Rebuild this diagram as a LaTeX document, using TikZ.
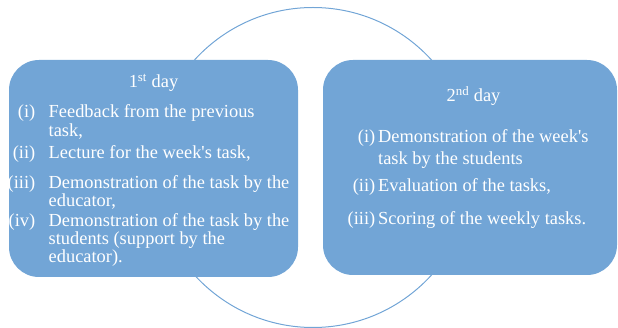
\documentclass[tikz,border=0pt]{standalone}
\usepackage{fontspec}
\setmainfont{Liberation Serif}
\definecolor{boxblue}{RGB}{114,165,214}
\begin{document}
\begin{tikzpicture}[x=1pt,y=-1pt,
  daybox/.style={fill=boxblue,draw=none,rounded corners=30pt},
  txt/.style={text=white,inner sep=0pt,font=\fontsize{18.4}{20}\selectfont},
  lab/.style={txt,anchor=base east},
  itm/.style={txt,anchor=base west},
  ttl/.style={txt,anchor=base}]
\useasboundingbox (0,0) rectangle (618,328);
\node[draw=boxblue,line width=1pt,circle,minimum size=320pt,inner sep=0pt] (ring) at (313,167.5) {};
\fill[daybox] (9,60) rectangle (298,277);
\node[inner sep=0pt] (boxA) at (153.5,168.5) {};
\fill[daybox] (323,60) rectangle (617,275);
\node[inner sep=0pt] (boxB) at (470,167.5) {};
% left box
\node[ttl] (t1) at (153.5,88) {1\textsuperscript{st} day};
\node[lab] (a1) at (35.5,118) {(i)};
\node[itm] (a1x) at (48.5,118) {Feedback from the previous};
\node[itm] (a1y) at (48.5,137) {task,};
\node[lab] (a2) at (35.5,159) {(ii)};
\node[itm] (a2x) at (48.5,159) {Lecture for the week\textquotesingle s task,};
\node[lab] (a3) at (35.5,189) {(iii)};
\node[itm] (a3x) at (48.5,189) {Demonstration of the task by the};
\node[itm] (a3y) at (48.5,207) {educator,};
\node[lab] (a4) at (35.5,227) {(iv)};
\node[itm] (a4x) at (48.5,227) {Demonstration of the task by the};
\node[itm] (a4y) at (48.5,245) {students (support by the};
\node[itm] (a4z) at (48.5,263) {educator).};
% right box
\node[ttl] (t2) at (473.5,102) {2\textsuperscript{nd} day};
\node[lab] (b1) at (375.5,143) {(i)};
\node[itm] (b1x) at (378,143) {Demonstration of the week\textquotesingle s};
\node[itm] (b1y) at (378,165) {task by the students};
\node[lab] (b2) at (375.5,192) {(ii)};
\node[itm] (b2x) at (378,192) {Evaluation of the tasks,};
\node[lab] (b3) at (375.5,225) {(iii)};
\node[itm] (b3x) at (378,225) {Scoring of the weekly tasks.};
\end{tikzpicture}
\end{document}
